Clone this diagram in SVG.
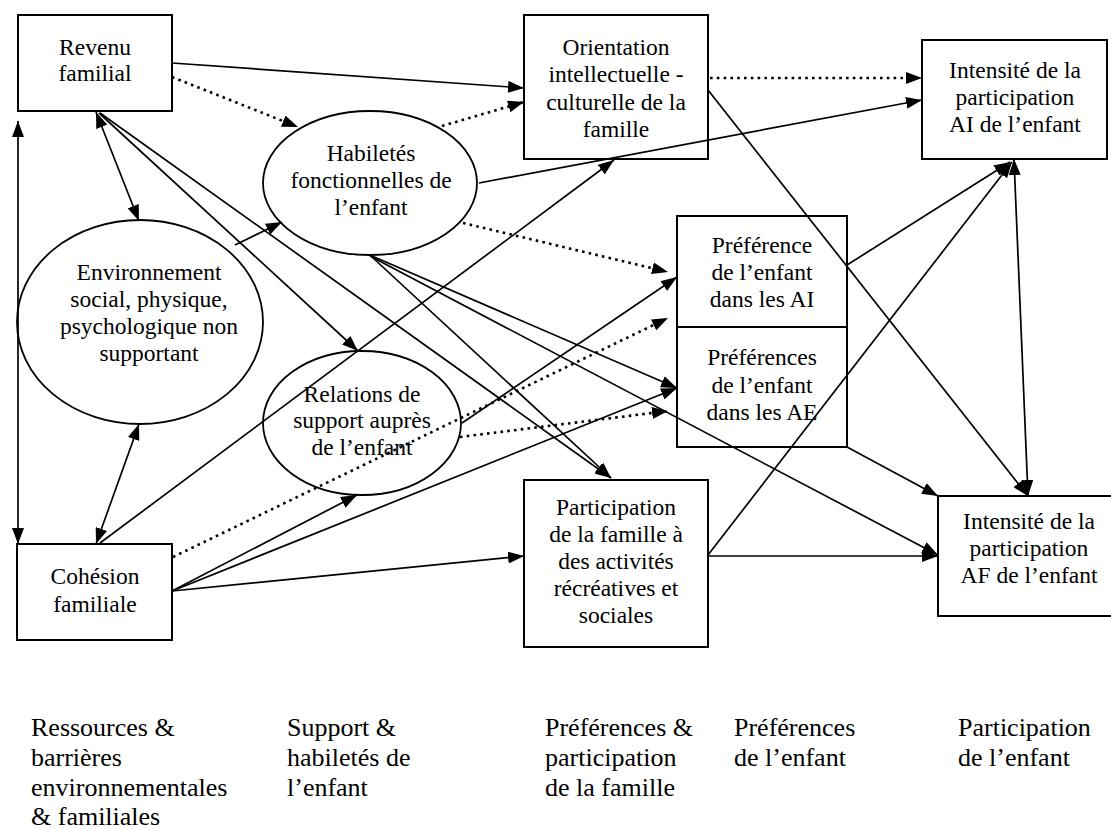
<svg xmlns="http://www.w3.org/2000/svg" width="1111" height="829" viewBox="0 0 1111 829" font-family="'Liberation Serif', 'Times New Roman', serif">
<style>
.bx{fill:none;stroke:#000;stroke-width:2}
.el{fill:none;stroke:#000;stroke-width:1.8}
.t{font-size:23.5px;fill:#000;text-anchor:middle}
.lb{font-size:26px;fill:#000}
.s{fill:none;stroke:#000;stroke-width:1.7;marker-end:url(#ah)}
.d{fill:none;stroke:#000;stroke-width:2.6;stroke-dasharray:2.6 4.2;marker-end:url(#ah)}
.b{marker-start:url(#ah)}
</style>
<defs>
<marker id="ah" viewBox="0 0 16 12" refX="16" refY="6" markerWidth="16" markerHeight="12" markerUnits="userSpaceOnUse" orient="auto-start-reverse"><path d="M0,0 L16,6 L0,12 z" fill="#000"/></marker>
</defs>
<rect width="1111" height="829" fill="#fff"/>
<g id="revenu"><rect class="bx" x="18" y="15" width="154" height="96"/>
<text class="t" x="95" y="55">Revenu</text><text class="t" x="95" y="81">familial</text></g>

<g id="orientation"><rect class="bx" x="524" y="15" width="184" height="144"/>
<text class="t" x="616" y="55">Orientation</text><text class="t" x="616" y="82">intellectuelle -</text><text class="t" x="616" y="110">culturelle de la</text><text class="t" x="616" y="137">famille</text></g>

<g id="intensite-ai"><rect class="bx" x="922" y="40" width="185" height="119"/>
<text class="t" x="1015" y="78">Intensité de la</text><text class="t" x="1015" y="105">participation</text><text class="t" x="1015" y="132">AI de l’enfant</text></g>

<g id="habiletes"><ellipse class="el" cx="370" cy="183" rx="107" ry="72"/>
<text class="t" x="371" y="161">Habiletés</text><text class="t" x="371" y="188">fonctionnelles de</text><text class="t" x="371" y="215">l’enfant</text></g>

<g id="environnement"><ellipse class="el" cx="140" cy="322" rx="123" ry="102"/>
<text class="t" x="149" y="280">Environnement</text><text class="t" x="149" y="307">social, physique,</text><text class="t" x="149" y="334">psychologique non</text><text class="t" x="149" y="361">supportant</text></g>

<g id="relations"><ellipse class="el" cx="362" cy="423" rx="99" ry="72"/>
<text class="t" x="362" y="402">Relations de</text><text class="t" x="362" y="428">support auprès</text><text class="t" x="362" y="455">de l’enfant</text></g>

<g id="preference-ai"><rect class="bx" x="677" y="216" width="170" height="111"/>
<text class="t" x="762" y="253">Préférence</text><text class="t" x="762" y="280">de l’enfant</text><text class="t" x="762" y="307">dans les AI</text></g>

<g id="preference-ae"><rect class="bx" x="677" y="327" width="170" height="120"/>
<text class="t" x="762" y="365">Préférences</text><text class="t" x="762" y="393">de l’enfant</text><text class="t" x="762" y="420">dans les AE</text></g>

<g id="participation-famille"><rect class="bx" x="524" y="480" width="184" height="167"/>
<text class="t" x="616" y="515">Participation</text><text class="t" x="616" y="542">de la famille à</text><text class="t" x="616" y="569">des activités</text><text class="t" x="616" y="596">récréatives et</text><text class="t" x="616" y="623">sociales</text></g>

<g id="intensite-af"><rect class="bx" x="938" y="496" width="182" height="120"/>
<text class="t" x="1029" y="529">Intensité de la</text><text class="t" x="1029" y="556">participation</text><text class="t" x="1029" y="583">AF de l’enfant</text></g>

<g id="cohesion"><rect class="bx" x="17" y="544" width="155" height="96"/>
<text class="t" x="95" y="584">Cohésion</text><text class="t" x="95" y="612">familiale</text></g>

<g id="legend">
<text class="lb" x="31" y="736">Ressources &amp;</text><text class="lb" x="31" y="766">barrières</text><text class="lb" x="31" y="796">environnementales</text><text class="lb" x="31" y="825">&amp; familiales</text>
<text class="lb" x="287" y="736">Support &amp;</text><text class="lb" x="287" y="766">habiletés de</text><text class="lb" x="287" y="796">l’enfant</text>
<text class="lb" x="545" y="736">Préférences &amp;</text><text class="lb" x="545" y="766">participation</text><text class="lb" x="545" y="796">de la famille</text>
<text class="lb" x="734" y="736">Préférences</text><text class="lb" x="734" y="766">de l’enfant</text>
<text class="lb" x="958" y="736">Participation</text><text class="lb" x="958" y="766">de l’enfant</text>
</g>

<g id="connectors">
<path class="s" d="M172,63 L524,88"/>
<path class="s b" d="M96,112 L139,221"/>
<path class="s" d="M99,113 L358,351"/>
<path class="s" d="M100,113 L611,478"/>
<path class="s b" d="M18,121 L18,544"/>
<path class="s" d="M235,245 L282,222"/>
<path class="s b" d="M139,424 L96,544"/>
<path class="s" d="M100,543 L614,160"/>
<path class="s" d="M172,591 L357,495"/>
<path class="s" d="M172,591 L677,388"/>
<path class="s" d="M172,591 L524,556"/>
<path class="s" d="M479,183 L922,100"/>
<path class="s" d="M372,257 L611,478"/>
<path class="s" d="M372,256 L677,388"/>
<path class="s" d="M370,256 L938,555"/>
<path class="s" d="M462,423 L677,277"/>
<path class="s" d="M708,90 L1028,496"/>
<path class="s" d="M847,265 L1010,162"/>
<path class="s" d="M708,555 L1012,162"/>
<path class="s" d="M708,556 L938,556"/>
<path class="s" d="M847,447 L938,496"/>
<path class="s b" d="M1014,159 L1028,496"/>
<path class="d" d="M172,77 L298,127"/>
<path class="d" d="M442,126 L524,102"/>
<path class="d" d="M710,78 L922,78"/>
<path class="d" d="M463,223 L668,272"/>
<path class="d" d="M173,557 L668,318"/>
<path class="d" d="M460,437 L668,411"/>
</g>
</svg>
